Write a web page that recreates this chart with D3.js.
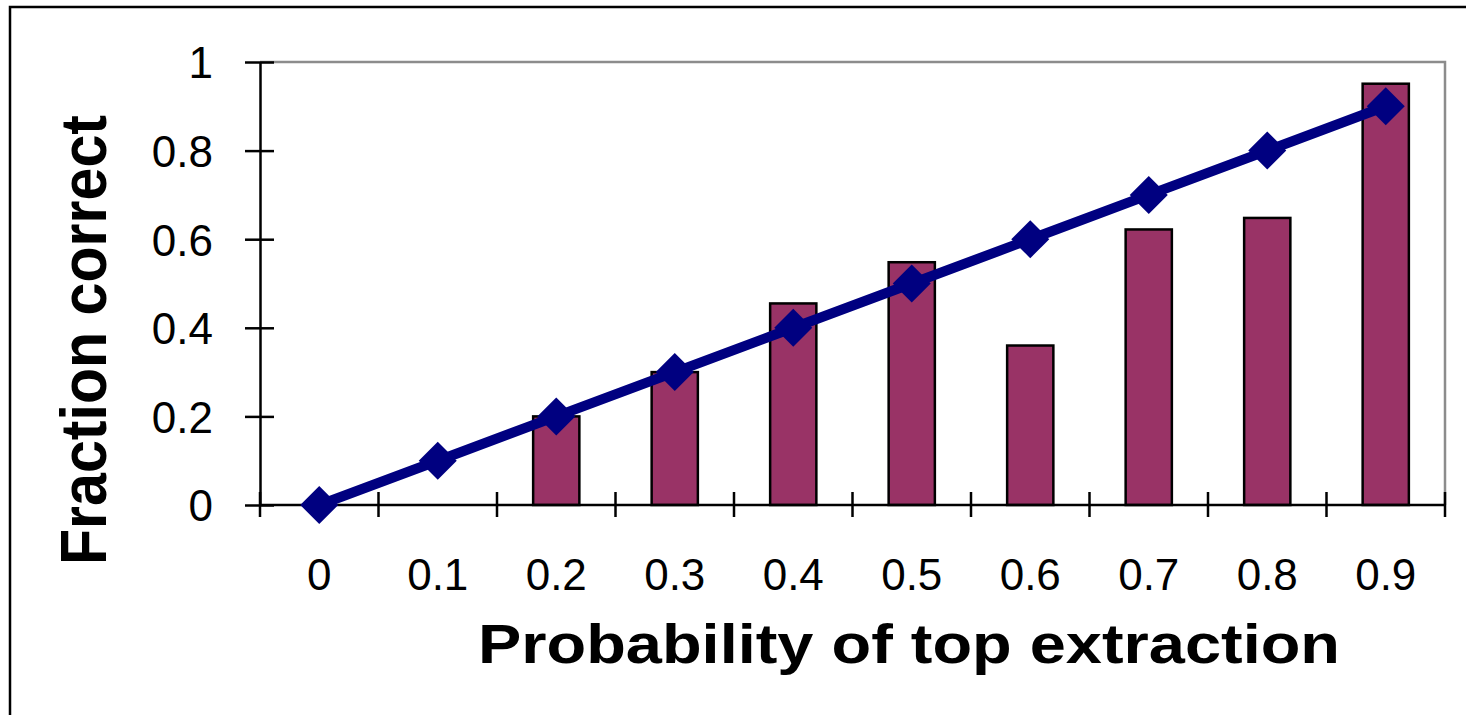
<!DOCTYPE html>
<html>
<head>
<meta charset="utf-8">
<script src="https://cdn.jsdelivr.net/npm/d3@7"></script>
<style>
  html, body { margin: 0; padding: 0; background: #fff; }
  svg { display: block; }
  text { font-family: "Liberation Sans", Arial, sans-serif; fill: #000; }
</style>
</head>
<body>
<svg id="chart" width="1466" height="715"></svg>
<script>
// Categories: probability of top extraction
const categories = ["0", "0.1", "0.2", "0.3", "0.4", "0.5", "0.6", "0.7", "0.8", "0.9"];
// Observed fraction correct (bars)
const observed = [0, 0, 0.20, 0.30, 0.455, 0.548, 0.36, 0.622, 0.648, 0.951];
// Expected fraction correct (line)
const expected = [0, 0.1, 0.2, 0.3, 0.4, 0.5, 0.6, 0.7, 0.8, 0.9];
// Y axis ticks
const yTicks = [0, 0.2, 0.4, 0.6, 0.8, 1];
const yTickLabels = ["0", "0.2", "0.4", "0.6", "0.8", "1"];

const svg = d3.select("#chart");
const plotLeft = 260, plotRight = 1445, plotTop = 62, plotBottom = 505;

// Outer frame
svg.append("rect")
  .attr("x", 10).attr("y", 7)
  .attr("width", 1500).attr("height", 800)
  .attr("fill", "none").attr("stroke", "#000").attr("stroke-width", 2.5);

const x = d3.scaleBand().domain(categories).range([plotLeft, plotRight]).padding(0);
const xBar = d3.scaleBand().domain(categories).range([plotLeft, plotRight]).paddingInner(0.61).paddingOuter(0.305);
const y = d3.scaleLinear().domain([0, 1]).range([plotBottom, plotTop]);

// Plot area border (top and right)
svg.append("path")
  .attr("d", `M${plotLeft},${y(1)}H${plotRight}V${y(0)}`)
  .attr("fill", "none").attr("stroke", "#8c8c8c").attr("stroke-width", 2.5);

// Bars
svg.append("g").selectAll("rect")
  .data(categories.map((c, i) => ({c, v: observed[i]})).filter(d => d.v > 0))
  .join("rect")
  .attr("x", d => xBar(d.c))
  .attr("width", xBar.bandwidth())
  .attr("y", d => y(d.v))
  .attr("height", d => y(0) - y(d.v))
  .attr("fill", "#993366")
  .attr("stroke", "#000")
  .attr("stroke-width", 2.5);

// Y axis
const yAxis = svg.append("g").attr("transform", `translate(${plotLeft},0)`)
  .call(d3.axisLeft(y).tickValues(yTicks).tickFormat((d, i) => yTickLabels[i]).tickSize(15).tickSizeOuter(0).tickPadding(30));
yAxis.select(".domain").attr("stroke", "#000").attr("stroke-width", 2.5);
yAxis.selectAll(".tick line").attr("stroke", "#000").attr("stroke-width", 2.5).attr("x2", -15).attr("x1", 14);
yAxis.selectAll(".tick text")
  .attr("font-size", 44).attr("x", -47).attr("dy", "0.36em")
  .style("font-family", "Liberation Sans, Arial, sans-serif");

// X axis: ticks at category boundaries
const bounds = categories.map(c => x(c)).concat([plotRight]);
const xAxis = svg.append("g");
xAxis.append("line")
  .attr("x1", plotLeft).attr("x2", plotRight).attr("y1", y(0)).attr("y2", y(0))
  .attr("stroke", "#000").attr("stroke-width", 2.5);
xAxis.selectAll("line.tk").data(bounds).join("line").attr("class", "tk")
  .attr("x1", d => d).attr("x2", d => d)
  .attr("y1", y(0) - 13).attr("y2", y(0) + 12)
  .attr("stroke", "#000").attr("stroke-width", 2.5);
xAxis.selectAll("text").data(categories).join("text")
  .attr("x", d => x(d) + x.bandwidth() / 2)
  .attr("y", 590)
  .attr("text-anchor", "middle")
  .attr("font-size", 44)
  .text(d => d);

// Expected line with diamond markers
const line = d3.line()
  .x((d, i) => x(categories[i]) + x.bandwidth() / 2)
  .y(d => y(d));
svg.append("path")
  .datum(expected)
  .attr("d", line)
  .attr("fill", "none")
  .attr("stroke", "#000080")
  .attr("stroke-width", 10)
  .attr("stroke-linejoin", "round");
svg.append("g").selectAll("path")
  .data(expected)
  .join("path")
  .attr("transform", (d, i) => `translate(${x(categories[i]) + x.bandwidth() / 2},${y(d)})`)
  .attr("d", "M0,-19L19,0L0,19L-19,0Z")
  .attr("fill", "#000080");

// Axis titles
svg.append("text")
  .attr("x", 909).attr("y", 663)
  .attr("text-anchor", "middle")
  .attr("font-size", 56).attr("font-weight", "bold")
  .attr("textLength", 862).attr("lengthAdjust", "spacingAndGlyphs")
  .text("Probability of top extraction");

svg.append("text")
  .attr("transform", "translate(106,340) rotate(-90) scale(1,1.12)")
  .attr("text-anchor", "middle")
  .attr("font-size", 58).attr("font-weight", "bold")
  .attr("textLength", 450).attr("lengthAdjust", "spacingAndGlyphs")
  .text("Fraction correct");
</script>
</body>
</html>
